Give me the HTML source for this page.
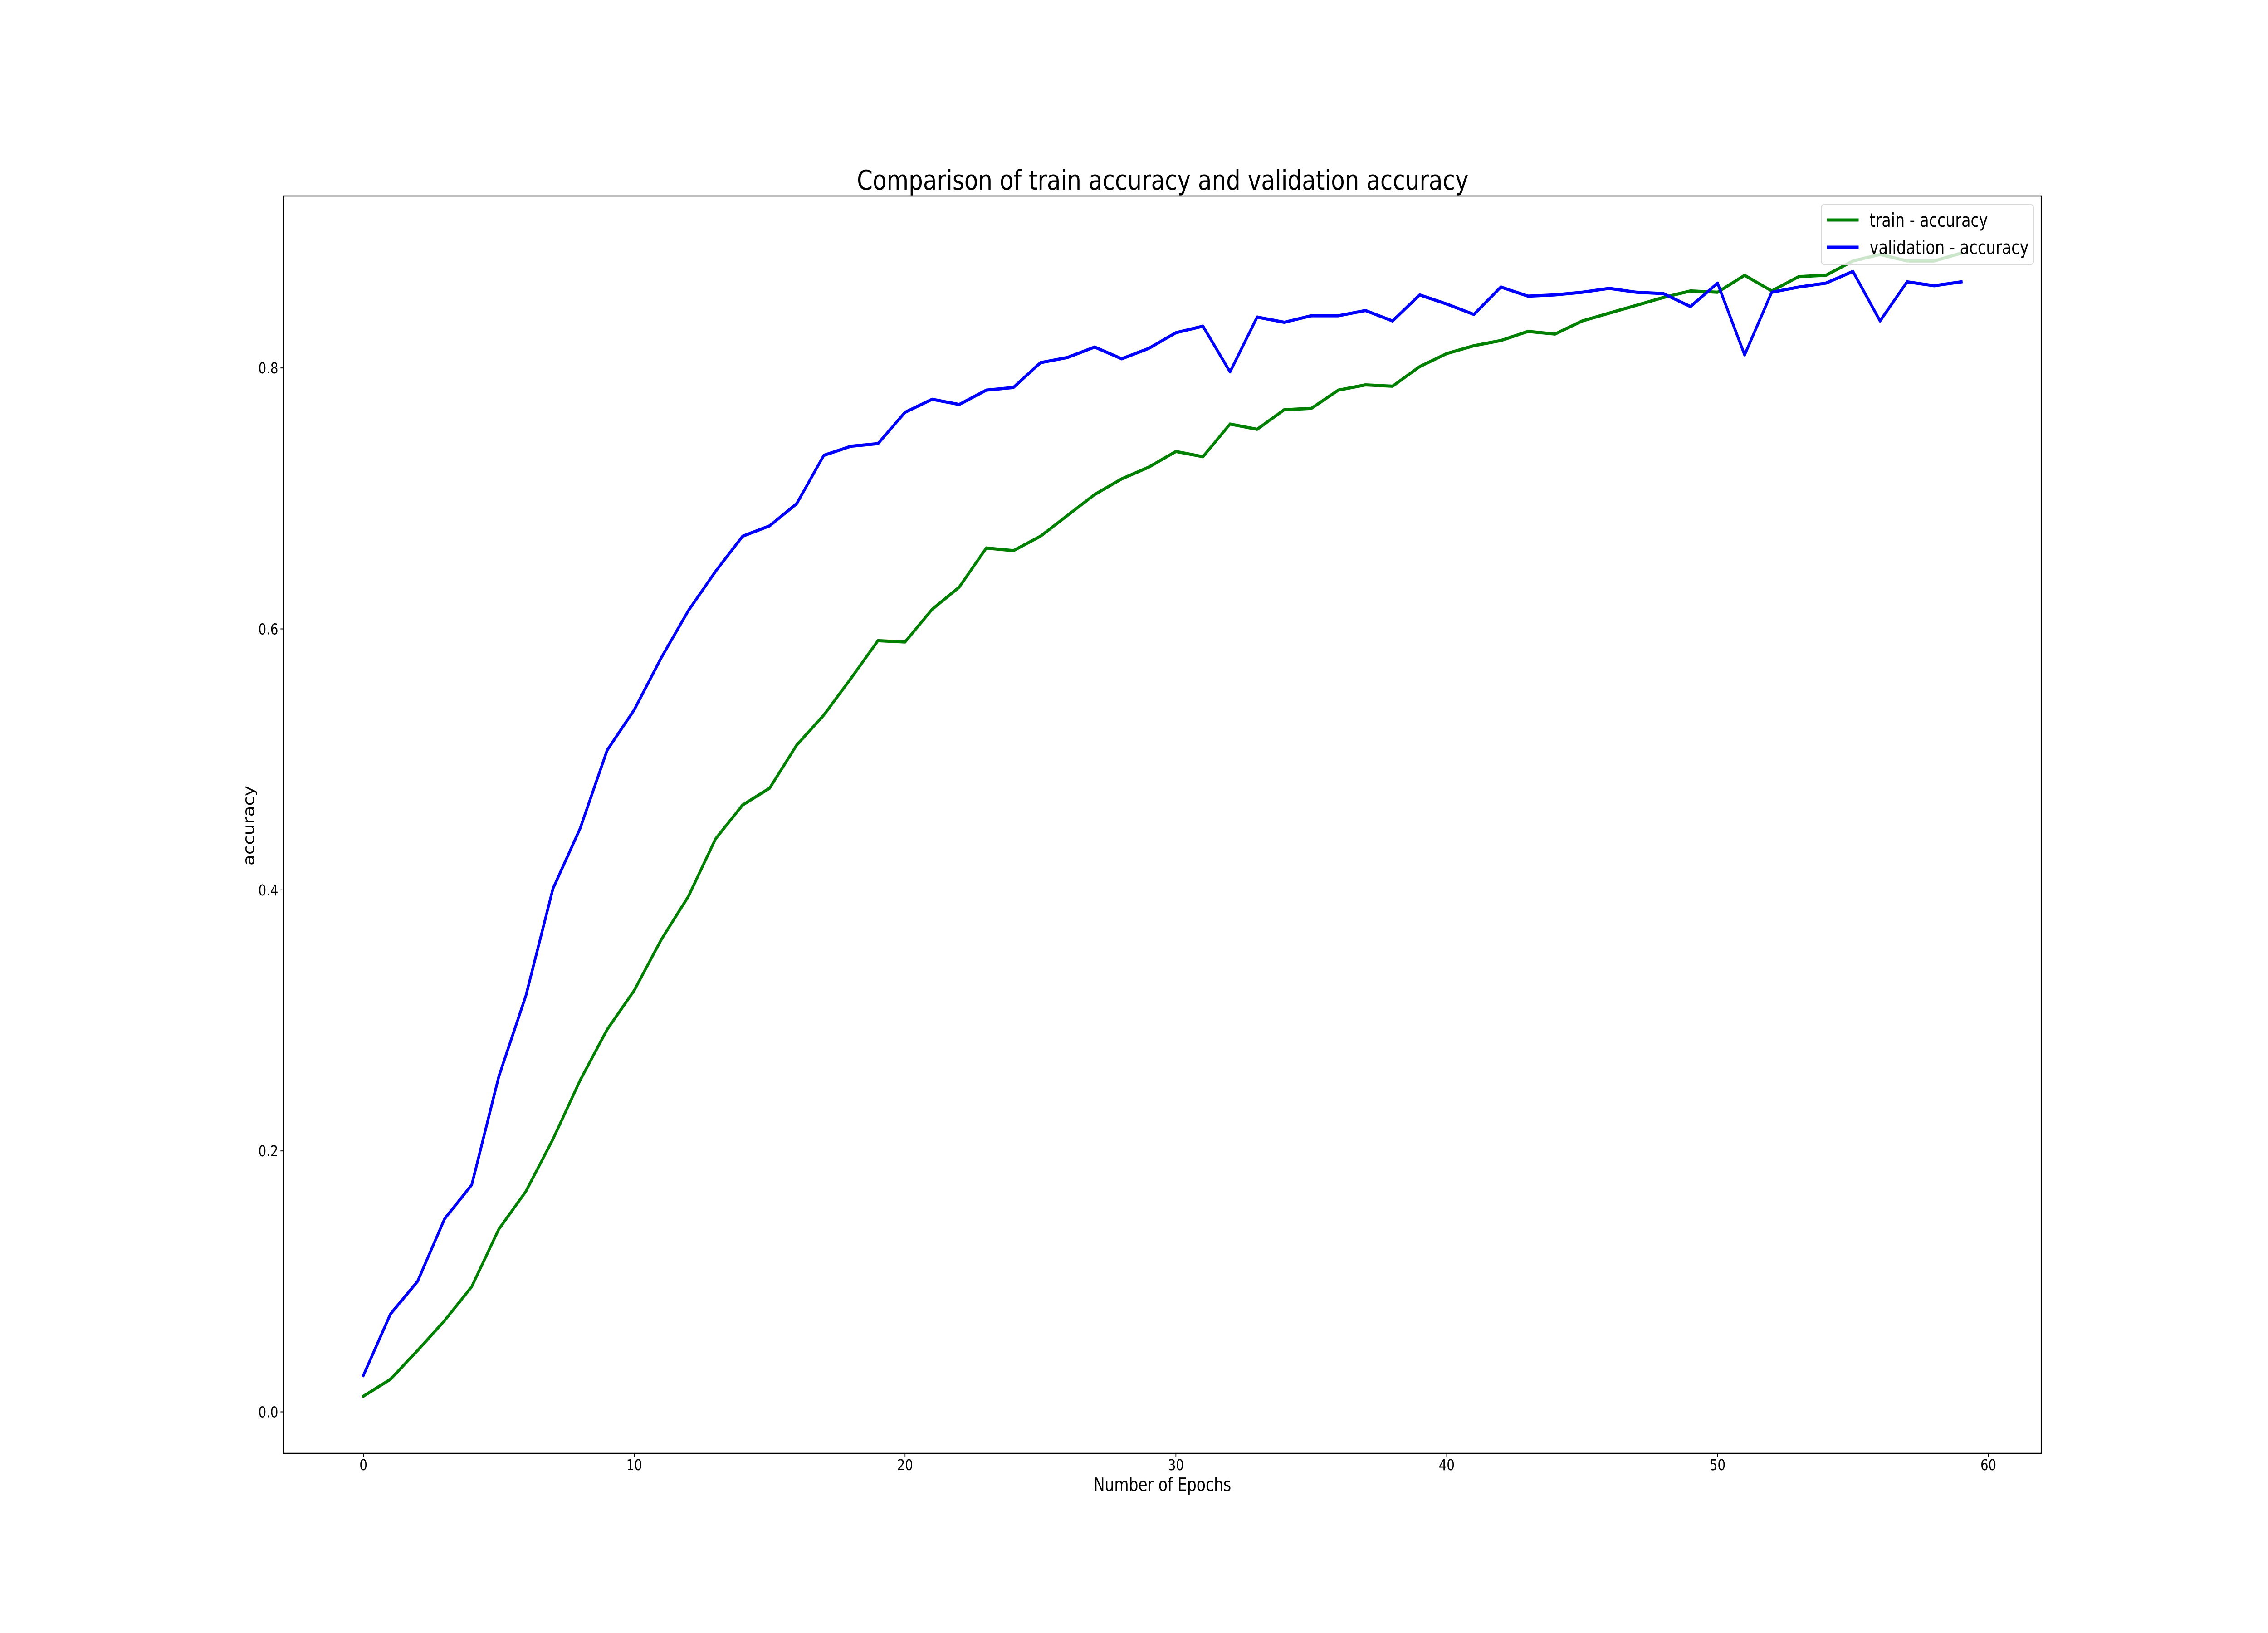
<!DOCTYPE html>
<html><head><meta charset="utf-8"><style>html,body{margin:0;padding:0;background:#fff;overflow:hidden;width:100%;height:100%}svg{display:block;width:100vw;height:100vh}text{font-family:"DejaVu Sans","Liberation Sans",sans-serif;fill:#000}</style></head>
<body>
<svg id="chart" viewBox="0 0 6000 3600" preserveAspectRatio="none" xmlns="http://www.w3.org/2000/svg">
<rect x="0" y="0" width="6000" height="3600" fill="#fff"/>
<g id="plot"></g>
</svg>
<script>
const epochs = Array.from({length:60},(_,i)=>i);
const trainAcc = [0.012,0.025,0.047,0.070,0.096,0.140,0.169,0.209,0.254,0.293,0.323,0.362,0.395,0.439,0.465,0.478,0.511,0.534,0.562,0.591,0.590,0.615,0.632,0.662,0.660,0.671,0.687,0.703,0.715,0.724,0.736,0.732,0.757,0.753,0.768,0.769,0.783,0.787,0.786,0.801,0.811,0.817,0.821,0.828,0.826,0.836,0.842,0.848,0.854,0.859,0.858,0.871,0.859,0.870,0.871,0.882,0.887,0.882,0.882,0.888];
const valAcc = [0.028,0.075,0.100,0.148,0.174,0.257,0.319,0.401,0.447,0.507,0.538,0.578,0.614,0.644,0.671,0.679,0.696,0.733,0.740,0.742,0.766,0.776,0.772,0.783,0.785,0.804,0.808,0.816,0.807,0.815,0.827,0.832,0.797,0.839,0.835,0.840,0.840,0.844,0.836,0.856,0.849,0.841,0.862,0.855,0.856,0.858,0.861,0.858,0.857,0.847,0.865,0.810,0.858,0.862,0.865,0.874,0.836,0.866,0.863,0.866];
const xTicks = [0,10,20,30,40,50,60];
const yTicks = [0.0,0.2,0.4,0.6,0.8];
const yTickLabels = ["0.0","0.2","0.4","0.6","0.8"];

const L=750,R=5400,T=432,B=3204;
const NS="http://www.w3.org/2000/svg";
const g=document.getElementById('plot');
const allV=trainAcc.concat(valAcc);
const yMin=Math.min(...allV), yMax=Math.max(...allV), yr=yMax-yMin;
const y0=yMin-0.05*yr, y1=yMax+0.05*yr;
const xMin=0, xMaxD=epochs.length-1, xr=xMaxD-xMin;
const x0=xMin-0.05*xr, x1=xMaxD+0.05*xr;
function sx(v){return L+(v-x0)/(x1-x0)*(R-L);}
function sy(v){return B-(v-y0)/(y1-y0)*(B-T);}
function mk(tag,attrs,text){const e=document.createElementNS(NS,tag);for(const k in attrs)e.setAttribute(k,attrs[k]);if(text!==undefined)e.textContent=text;g.appendChild(e);return e;}

function line(vals,color,name){
  const d=vals.map((v,i)=>(i?'L':'M')+sx(epochs[i]).toFixed(1)+' '+sy(v).toFixed(1)).join(' ');
  const p=mk('path',{d:d,fill:'none',stroke:color,'stroke-width':7,'stroke-linejoin':'round','stroke-linecap':'square'});
  
  
}
line(trainAcc,'#008000','train-accuracy-line');
line(valAcc,'#0000ff','validation-accuracy-line');

const fr=mk('rect',{x:L,y:T,width:R-L,height:B-T,fill:'none',stroke:'#000','stroke-width':2.5});



xTicks.forEach(t=>{
  const x=sx(t);
  const tk=mk('line',{x1:x,y1:B,x2:x,y2:B+8,stroke:'#000','stroke-width':2});
  
  
  const lb=mk('text',{x:x,y:3241,'font-size':33,'text-anchor':'middle'},String(t));
  
  
});
yTicks.forEach((t,i)=>{
  const y=sy(t);
  const tk=mk('line',{x1:L-8,y1:y,x2:L,y2:y,stroke:'#000','stroke-width':2});
  
  
  const lb=mk('text',{x:736,y:y+12,'font-size':33,'text-anchor':'end'},yTickLabels[i]);
  
  
});

const t1=mk('text',{x:3076,y:418,'font-size':60,'text-anchor':'middle',textLength:1618,lengthAdjust:'spacingAndGlyphs'},'Comparison of train accuracy and validation accuracy');


const xl=mk('text',{x:3075,y:3287,'font-size':41,'text-anchor':'middle',textLength:364,lengthAdjust:'spacingAndGlyphs'},'Number of Epochs');


const yl=mk('text',{x:0,y:0,'font-size':41,'text-anchor':'middle',textLength:176,lengthAdjust:'spacingAndGlyphs',transform:'translate(672,1820) rotate(-90)'},'accuracy');



const lg=mk('rect',{x:4818,y:451,width:562,height:132,rx:8,fill:'#fff','fill-opacity':0.8,stroke:'#d9d9d9','stroke-width':2.5});


const l1=mk('line',{x1:4833,y1:485,x2:4917,y2:485,stroke:'#008000','stroke-width':7});


const lt1=mk('text',{x:4946,y:500,'font-size':42,textLength:313,lengthAdjust:'spacingAndGlyphs'},'train - accuracy');


const l2=mk('line',{x1:4833,y1:545,x2:4917,y2:545,stroke:'#0000ff','stroke-width':7});


const lt2=mk('text',{x:4946,y:560,'font-size':42,textLength:421,lengthAdjust:'spacingAndGlyphs'},'validation - accuracy');


</script>
</body></html>
